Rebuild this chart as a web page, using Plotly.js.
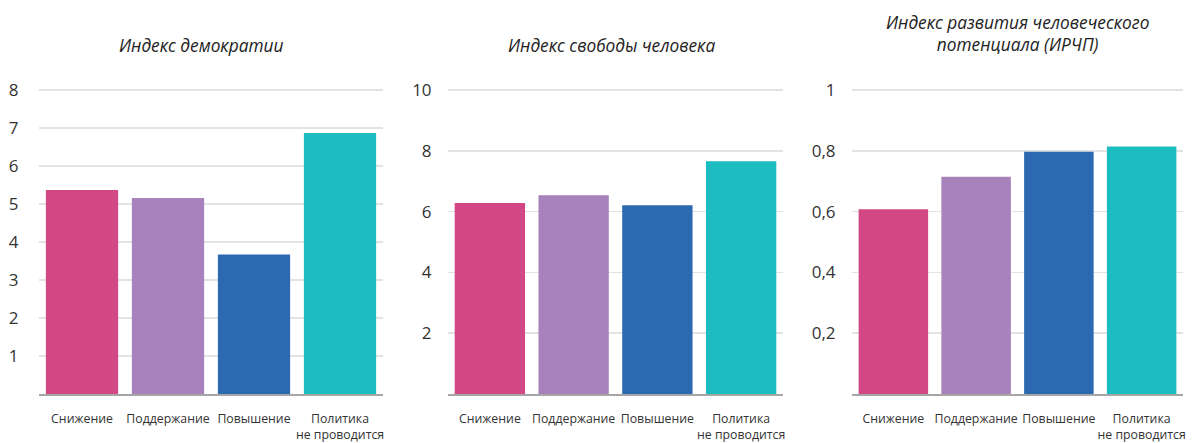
<!DOCTYPE html>
<html><head><meta charset="utf-8">
<script src="https://cdn.plot.ly/plotly-3.0.1.min.js"></script>
<style>html,body{margin:0;padding:0;background:#fff}#c{width:1192px;height:443px}</style>
</head><body><div id="c"></div>
<script>
const categories = ["Снижение", "Поддержание", "Повышение", "Политика<br>не проводится"];
const barColors = ["#D44785", "#A782BB", "#2C69B0", "#1BBDC1"];
const democracyIndex = [5.37, 5.16, 3.67, 6.87];
const freedomIndex = [6.28, 6.54, 6.21, 7.66];
const hdiIndex = [0.608, 0.715, 0.797, 0.814];
const titles = ["Индекс демократии", "Индекс свободы человека", "Индекс развития человеческого<br>потенциала (ИРЧП)"];
const ticks1 = [1, 2, 3, 4, 5, 6, 7, 8];
const ticks2 = [2, 4, 6, 8, 10];
const ticks3 = [0.2, 0.4, 0.6, 0.8, 1];

const font = "Open Sans, sans-serif";
const series = [democracyIndex, freedomIndex, hdiIndex];
const traces = series.map((vals, i) => ({
  type: "bar", x: categories, y: vals,
  xaxis: i === 0 ? "x" : "x" + (i + 1),
  yaxis: i === 0 ? "y" : "y" + (i + 1),
  marker: {color: barColors},
  hoverinfo: "x+y", showlegend: false
}));

const W = 1192, H = 443;
const xdoms = [[39, 383], [448, 783], [852, 1183]];
const yBottom = 394, yTopTick = 90;
const tvs = [ticks1, ticks2, ticks3];
const maxTick = [8, 10, 1];
const pad = 0.008;
const layout = {
  width: W, height: H,
  margin: {l: 0, r: 0, t: 0, b: 0},
  paper_bgcolor: "#fff", plot_bgcolor: "#fff",
  separators: ", ",
  bargap: 0.16,
  font: {family: font, color: "#333"},
  annotations: []
};
const titleX = [201, 611, 1017];
const titleY = [45, 45, 34];
for (let i = 0; i < 3; i++) {
  const s = i === 0 ? "" : String(i + 1);
  const top = maxTick[i] * (1 + pad);
  const pxTop = yBottom - (yBottom - yTopTick) * (1 + pad);
  layout["xaxis" + s] = {
    domain: [xdoms[i][0] / W, xdoms[i][1] / W],
    anchor: "y" + s,
    showgrid: false, zeroline: false,
    showline: true, linecolor: "#a6a6a6", linewidth: 2,
    ticks: "outside", ticklen: 12, tickcolor: "rgba(0,0,0,0)",
    tickfont: {size: 12.3, color: "#333", family: font},
    tickangle: 0, fixedrange: true
  };
  layout["yaxis" + s] = {
    domain: [(H - yBottom) / H, (H - pxTop) / H], anchor: "x" + s,
    range: [0, top], tickvals: tvs[i],
    showgrid: true, gridcolor: "#e3e3e3", gridwidth: 1.5,
    zeroline: false, showline: false,
    ticks: "outside", ticklen: i === 0 ? 16 : 12, tickcolor: "rgba(0,0,0,0)",
    tickfont: {size: 17, color: "#333", family: font},
    fixedrange: true
  };
  layout.annotations.push({
    xref: "paper", yref: "paper",
    x: titleX[i] / W, y: 1 - titleY[i] / H,
    xanchor: "center", yanchor: "middle",
    text: "<i>" + titles[i] + "</i>", showarrow: false,
    font: {size: 17.3, color: "#222", family: font}
  });
}
Plotly.newPlot("c", traces, layout, {displayModeBar: false, staticPlot: true});
</script>
</body></html>
